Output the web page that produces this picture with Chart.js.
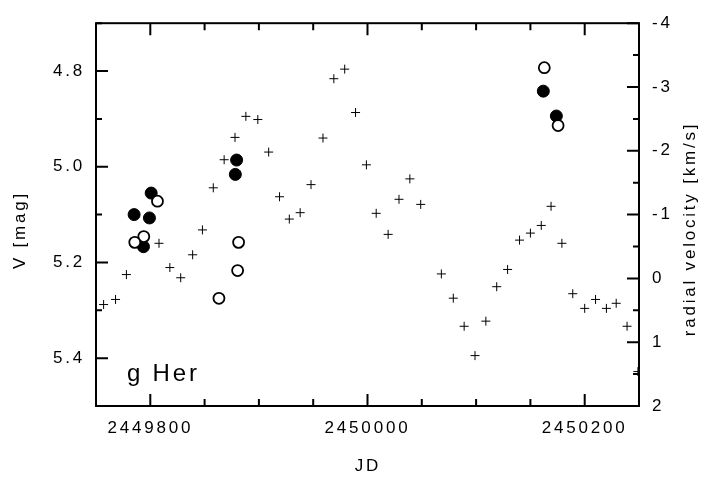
<!DOCTYPE html>
<html>
<head>
<meta charset="utf-8">
<script src="https://cdn.jsdelivr.net/npm/chart.js@4"></script>
<style>
  body { margin: 0; background: #fff; }
  #wrap { width: 704px; height: 486px; }
</style>
</head>
<body>
<div id="wrap"><canvas id="c"></canvas></div>
<script>
// radial velocity (crosses, right axis)
const rvJD = [2449757, 2449768, 2449778, 2449808, 2449818, 2449828, 2449839, 2449848, 2449858, 2449868,
  2449878, 2449888, 2449899, 2449909, 2449919, 2449928, 2449938, 2449948, 2449959, 2449969,
  2449979, 2449989, 2449999, 2450008, 2450019, 2450029, 2450039, 2450049, 2450068, 2450079,
  2450089, 2450099, 2450109, 2450119, 2450129, 2450140, 2450150, 2450160, 2450169, 2450179,
  2450189, 2450200, 2450210, 2450220, 2450229, 2450239, 2450249];
const rvKms = [0.41, 0.33, -0.06, -0.55, -0.17, -0.01, -0.37, -0.76, -1.42, -1.86,
  -2.21, -2.54, -2.49, -1.98, -1.28, -0.93, -1.03, -1.47, -2.20, -3.13,
  -3.28, -2.60, -1.78, -1.02, -0.69, -1.24, -1.56, -1.16, -0.07, 0.31,
  0.75, 1.21, 0.67, 0.13, -0.14, -0.60, -0.71, -0.83, -1.13, -0.55,
  0.24, 0.47, 0.33, 0.47, 0.39, 0.75, 1.46];

// V photometry, filled and open circles (left axis)
const filledJD = [2449800.8, 2449785.1, 2449799.2, 2449793.7, 2449879.5, 2449878.3, 2450161.9, 2450173.9];
const filledV = [5.055, 5.100, 5.107, 5.167, 4.986, 5.016, 4.842, 4.894];
const openJD = [2449806.6, 2449794.0, 2449785.7, 2449881.3, 2449880.4, 2449863.2, 2450162.8, 2450175.5];
const openV = [5.072, 5.146, 5.158, 5.158, 5.217, 5.275, 4.793, 4.914];

const FONT = '"Liberation Sans", Arial, Helvetica, sans-serif';

function pts(xs, ys) {
  return xs.map((x, i) => ({ x: x, y: ys[i] }));
}

// frame + inward tick marks (major longer than minor)
const frame = {
  id: 'frame',
  beforeDraw(chart) {
    chart.ctx.letterSpacing = '2.8px';
  },
  afterDatasetsDraw(chart) {
    const { ctx, chartArea: a, scales } = chart;
    ctx.save();
    ctx.strokeStyle = '#000';
    ctx.lineWidth = 2;
    ctx.beginPath();
    scales.x.ticks.forEach(t => {
      const px = scales.x.getPixelForValue(t.value);
      const len = Math.round(t.value) % 200 === 0 ? 12 : 7;
      ctx.moveTo(px, a.bottom); ctx.lineTo(px, a.bottom - len);
      ctx.moveTo(px, a.top); ctx.lineTo(px, a.top + len);
    });
    scales.y.ticks.forEach(t => {
      const py = scales.y.getPixelForValue(t.value);
      const len = Math.round(t.value * 10) % 2 === 0 ? 12 : 6;
      ctx.moveTo(a.left, py); ctx.lineTo(a.left + len, py);
    });
    scales.y2.ticks.forEach(t => {
      const py = scales.y2.getPixelForValue(t.value);
      const len = Math.abs(t.value - Math.round(t.value)) < 1e-6 ? 12 : 6;
      ctx.moveTo(a.right, py); ctx.lineTo(a.right - len, py);
    });
    ctx.stroke();
    ctx.strokeRect(a.left, a.top, a.right - a.left, a.bottom - a.top);
    ctx.restore();
  },
  afterDraw(chart) {
    const ctx = chart.ctx;
    ctx.save();
    ctx.fillStyle = '#000';
    ctx.font = '17px ' + FONT;
    ctx.textAlign = 'center';
    ctx.textBaseline = 'middle';
    ctx.fillText('JD', 368, 466);
    ctx.save();
    ctx.translate(20, 230);
    ctx.rotate(-Math.PI / 2);
    ctx.fillText('V [mag]', 0, 0);
    ctx.restore();
    ctx.save();
    ctx.translate(690, 229);
    ctx.rotate(-Math.PI / 2);
    ctx.fillText('radial velocity [km/s]', 0, 0);
    ctx.restore();
    ctx.font = '24px ' + FONT;
    ctx.textAlign = 'left';
    ctx.textBaseline = 'alphabetic';
    ctx.fillText('g Her', 127, 381);
    ctx.restore();
  }
};

new Chart(document.getElementById('c'), {
  type: 'scatter',
  data: {
    datasets: [
      {
        label: 'RV',
        data: pts(rvJD, rvKms),
        yAxisID: 'y2',
        pointStyle: 'cross',
        pointRadius: 4.5,
        borderColor: '#000',
        borderWidth: 1,
        order: 3
      },
      {
        label: 'V filled',
        data: pts(filledJD, filledV),
        yAxisID: 'y',
        pointStyle: 'circle',
        pointRadius: 6,
        backgroundColor: '#000',
        borderColor: '#000',
        borderWidth: 1,
        order: 2
      },
      {
        label: 'V open',
        data: pts(openJD, openV),
        yAxisID: 'y',
        pointStyle: 'circle',
        pointRadius: 5.5,
        backgroundColor: '#fff',
        borderColor: '#000',
        borderWidth: 1.8,
        order: 1
      }
    ]
  },
  options: {
    responsive: true,
    maintainAspectRatio: false,
    animation: false,
    events: [],
    layout: { padding: { top: 19, left: 0, right: 0, bottom: 0 } },
    plugins: { legend: { display: false }, tooltip: { enabled: false } },
    scales: {
      x: {
        type: 'linear',
        position: 'bottom',
        min: 2449750,
        max: 2450250,
        grid: { display: false, drawTicks: false },
        border: { display: false },
        ticks: {
          stepSize: 50,
          autoSkip: false,
          maxRotation: 0,
          padding: 12,
          color: '#000',
          font: { family: FONT, size: 17 },
          callback: v => (Math.round(v) % 200 === 0 ? String(v) : '')
        },
        afterFit: s => { s.height = 80; }
      },
      y: {
        position: 'left',
        reverse: true,
        min: 4.7,
        max: 5.5,
        grid: { display: false, drawTicks: false },
        border: { display: false },
        ticks: {
          stepSize: 0.1,
          autoSkip: false,
          padding: 11,
          color: '#000',
          font: { family: FONT, size: 17 },
          callback: v => (Math.round(v * 10) % 2 === 0 ? v.toFixed(1) : '')
        },
        afterFit: s => { s.width = 96; }
      },
      y2: {
        position: 'right',
        reverse: true,
        min: -4,
        max: 2,
        grid: { display: false, drawTicks: false },
        border: { display: false },
        ticks: {
          stepSize: 0.5,
          autoSkip: false,
          padding: 13,
          color: '#000',
          font: { family: FONT, size: 17 },
          callback: v => (Math.abs(v - Math.round(v)) < 1e-6 ? String(Math.round(v)) : '')
        },
        afterFit: s => { s.width = 65; }
      }
    }
  },
  plugins: [frame]
});
</script>
</body>
</html>
